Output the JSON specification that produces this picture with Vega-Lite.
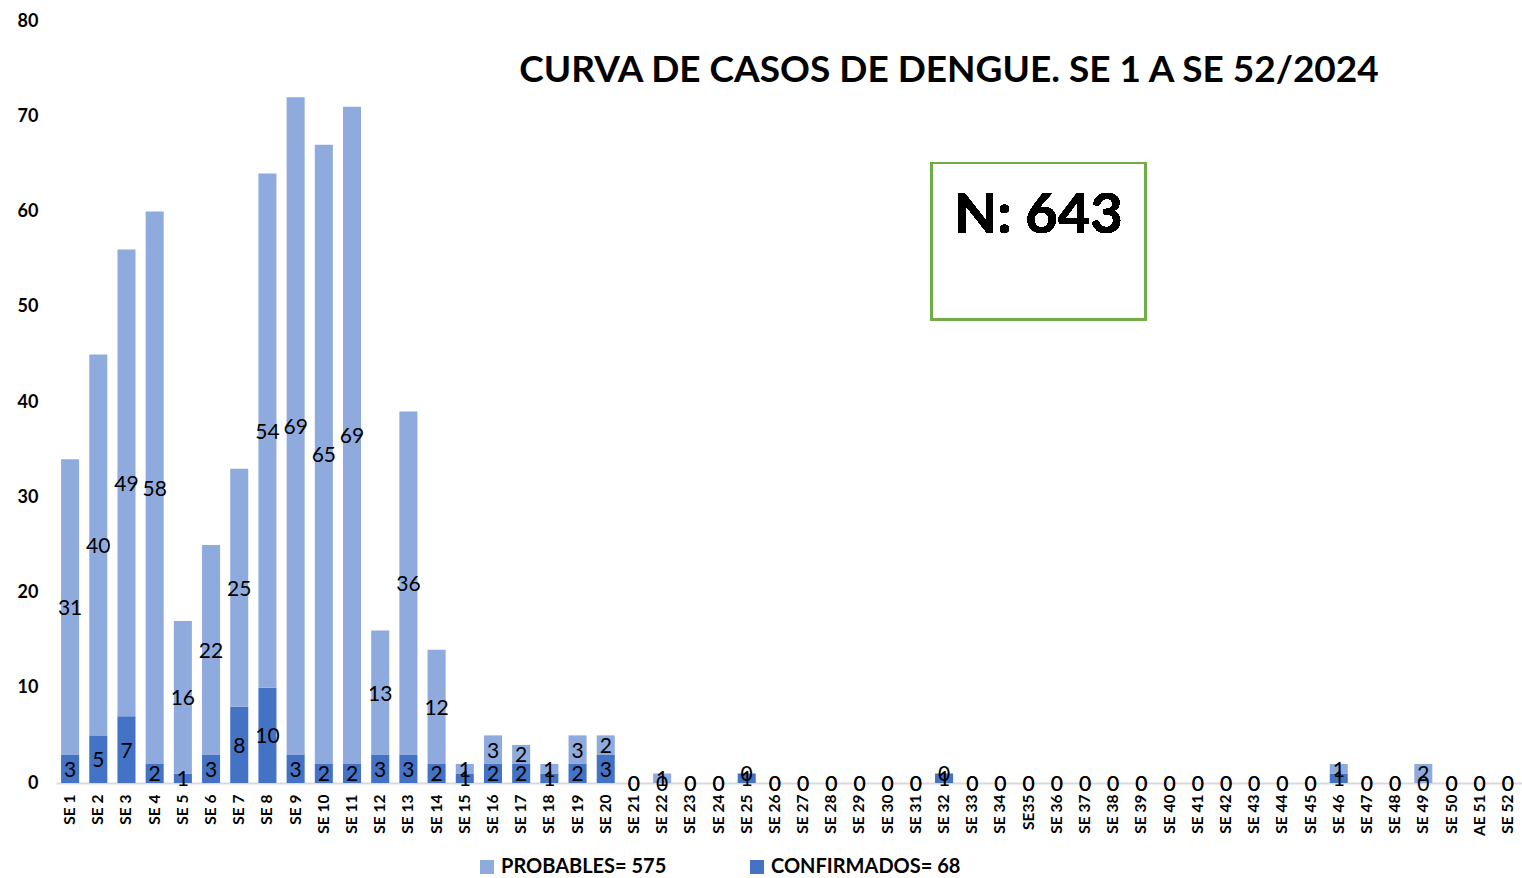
{
  "$schema": "https://vega.github.io/schema/vega-lite/v6.json",
  "width": 1466,
  "height": 762,
  "autosize": "none",
  "padding": {"left": 56, "top": 21, "right": 0, "bottom": 95},
  "background": "white",
  "config": {"view": {"stroke": null}, "font": "Lato"},
  "title": {
    "text": "CURVA DE CASOS DE DENGUE. SE 1 A SE 52/2024",
    "fontSize": 37,
    "fontWeight": "bold",
    "color": "black",
    "anchor": "middle",
    "frame": "group",
    "baseline": "alphabetic",
    "offset": -107,
    "dx": 160
  },
  "data": {
    "values": [
      {"se": "SE 1", "CONFIRMADOS": 3, "PROBABLES": 31},
      {"se": "SE 2", "CONFIRMADOS": 5, "PROBABLES": 40},
      {"se": "SE 3", "CONFIRMADOS": 7, "PROBABLES": 49},
      {"se": "SE 4", "CONFIRMADOS": 2, "PROBABLES": 58},
      {"se": "SE 5", "CONFIRMADOS": 1, "PROBABLES": 16},
      {"se": "SE 6", "CONFIRMADOS": 3, "PROBABLES": 22},
      {"se": "SE 7", "CONFIRMADOS": 8, "PROBABLES": 25},
      {"se": "SE 8", "CONFIRMADOS": 10, "PROBABLES": 54},
      {"se": "SE 9", "CONFIRMADOS": 3, "PROBABLES": 69},
      {"se": "SE 10", "CONFIRMADOS": 2, "PROBABLES": 65},
      {"se": "SE 11", "CONFIRMADOS": 2, "PROBABLES": 69},
      {"se": "SE 12", "CONFIRMADOS": 3, "PROBABLES": 13},
      {"se": "SE 13", "CONFIRMADOS": 3, "PROBABLES": 36},
      {"se": "SE 14", "CONFIRMADOS": 2, "PROBABLES": 12},
      {"se": "SE 15", "CONFIRMADOS": 1, "PROBABLES": 1},
      {"se": "SE 16", "CONFIRMADOS": 2, "PROBABLES": 3},
      {"se": "SE 17", "CONFIRMADOS": 2, "PROBABLES": 2},
      {"se": "SE 18", "CONFIRMADOS": 1, "PROBABLES": 1},
      {"se": "SE 19", "CONFIRMADOS": 2, "PROBABLES": 3},
      {"se": "SE 20", "CONFIRMADOS": 3, "PROBABLES": 2},
      {"se": "SE 21", "CONFIRMADOS": 0, "PROBABLES": 0},
      {"se": "SE 22", "CONFIRMADOS": 0, "PROBABLES": 1},
      {"se": "SE 23", "CONFIRMADOS": 0, "PROBABLES": 0},
      {"se": "SE 24", "CONFIRMADOS": 0, "PROBABLES": 0},
      {"se": "SE 25", "CONFIRMADOS": 1, "PROBABLES": 0},
      {"se": "SE 26", "CONFIRMADOS": 0, "PROBABLES": 0},
      {"se": "SE 27", "CONFIRMADOS": 0, "PROBABLES": 0},
      {"se": "SE 28", "CONFIRMADOS": 0, "PROBABLES": 0},
      {"se": "SE 29", "CONFIRMADOS": 0, "PROBABLES": 0},
      {"se": "SE 30", "CONFIRMADOS": 0, "PROBABLES": 0},
      {"se": "SE 31", "CONFIRMADOS": 0, "PROBABLES": 0},
      {"se": "SE 32", "CONFIRMADOS": 1, "PROBABLES": 0},
      {"se": "SE 33", "CONFIRMADOS": 0, "PROBABLES": 0},
      {"se": "SE 34", "CONFIRMADOS": 0, "PROBABLES": 0},
      {"se": "SE35", "CONFIRMADOS": 0, "PROBABLES": 0},
      {"se": "SE 36", "CONFIRMADOS": 0, "PROBABLES": 0},
      {"se": "SE 37", "CONFIRMADOS": 0, "PROBABLES": 0},
      {"se": "SE 38", "CONFIRMADOS": 0, "PROBABLES": 0},
      {"se": "SE 39", "CONFIRMADOS": 0, "PROBABLES": 0},
      {"se": "SE 40", "CONFIRMADOS": 0, "PROBABLES": 0},
      {"se": "SE 41", "CONFIRMADOS": 0, "PROBABLES": 0},
      {"se": "SE 42", "CONFIRMADOS": 0, "PROBABLES": 0},
      {"se": "SE 43", "CONFIRMADOS": 0, "PROBABLES": 0},
      {"se": "SE 44", "CONFIRMADOS": 0, "PROBABLES": 0},
      {"se": "SE 45", "CONFIRMADOS": 0, "PROBABLES": 0},
      {"se": "SE 46", "CONFIRMADOS": 1, "PROBABLES": 1},
      {"se": "SE 47", "CONFIRMADOS": 0, "PROBABLES": 0},
      {"se": "SE 48", "CONFIRMADOS": 0, "PROBABLES": 0},
      {"se": "SE 49", "CONFIRMADOS": 0, "PROBABLES": 2},
      {"se": "SE 50", "CONFIRMADOS": 0, "PROBABLES": 0},
      {"se": "AE 51", "CONFIRMADOS": 0, "PROBABLES": 0},
      {"se": "SE 52", "CONFIRMADOS": 0, "PROBABLES": 0}
    ]
  },
  "transform": [
    {"fold": ["CONFIRMADOS", "PROBABLES"], "as": ["serie", "n"]},
    {"stack": "n", "groupby": ["se"], "sort": [{"field": "serie", "order": "ascending"}], "as": ["y0", "y1"]},
    {"calculate": "(datum.y0 + datum.y1) / 2", "as": "mid"}
  ],
  "resolve": {"scale": {"x": "independent"}},
  "layer": [
    {
      "mark": {"type": "bar"},
      "encoding": {
        "x": {
          "field": "se", "type": "nominal", "sort": null,
          "scale": {"paddingInner": 0.36, "paddingOuter": 0.18},
          "axis": {
            "title": null, "labelAngle": -90, "labelFontSize": 15.5, "labelFontWeight": "bold",
            "labelColor": "black", "ticks": false, "domainColor": "#d9d9d9", "domainWidth": 2,
            "labelPadding": 11
          }
        },
        "y": {
          "field": "y1", "type": "quantitative",
          "scale": {"domain": [0, 80], "nice": false},
          "axis": {
            "title": null, "domain": false, "ticks": false, "grid": false,
            "values": [0, 10, 20, 30, 40, 50, 60, 70, 80],
            "labelFontSize": 18, "labelFontWeight": "bold", "labelColor": "black", "labelPadding": 18
          }
        },
        "y2": {"field": "y0"},
        "color": {
          "field": "serie", "type": "nominal",
          "scale": {"domain": ["PROBABLES", "CONFIRMADOS"], "range": ["#8FAADC", "#4472C4"]},
          "legend": {
            "title": null, "orient": "none", "direction": "horizontal",
            "legendX": 421, "legendY": 836,
            "symbolType": "square", "symbolSize": 196, "symbolStrokeWidth": 0,
            "labelFontSize": 20, "labelFontWeight": "bold", "labelColor": "black",
            "labelExpr": "datum.label == 'PROBABLES' ? 'PROBABLES= 575' : 'CONFIRMADOS= 68'",
            "columnPadding": 80, "labelLimit": 400
          }
        }
      }
    },
    {
      "mark": {"type": "text", "fontSize": 21, "color": "black", "baseline": "middle", "align": "center", "dy": 2},
      "encoding": {
        "x": {"field": "se", "type": "nominal", "sort": null, "scale": {"paddingInner": 0.36, "paddingOuter": 0.18}, "axis": null},
        "y": {"field": "mid", "type": "quantitative"},
        "text": {"field": "n", "type": "quantitative"}
      }
    },
    {
      "mark": {"type": "rect", "fill": "transparent", "stroke": "#70AD47", "strokeWidth": 2},
      "encoding": {
        "x": {"datum": 31.06, "type": "quantitative", "scale": {"domain": [0, 52], "nice": false, "zero": false}, "axis": null},
        "x2": {"datum": 38.65},
        "y": {"datum": 65.1, "type": "quantitative"},
        "y2": {"datum": 48.7}
      }
    },
    {
      "mark": {"type": "text", "fontSize": 56, "fontWeight": "bold", "color": "black", "align": "center", "baseline": "middle"},
      "encoding": {
        "x": {"datum": 34.85, "type": "quantitative", "scale": {"domain": [0, 52], "nice": false, "zero": false}, "axis": null},
        "y": {"datum": 59.5, "type": "quantitative"},
        "text": {"value": "N: 643"}
      }
    }
  ]
}
